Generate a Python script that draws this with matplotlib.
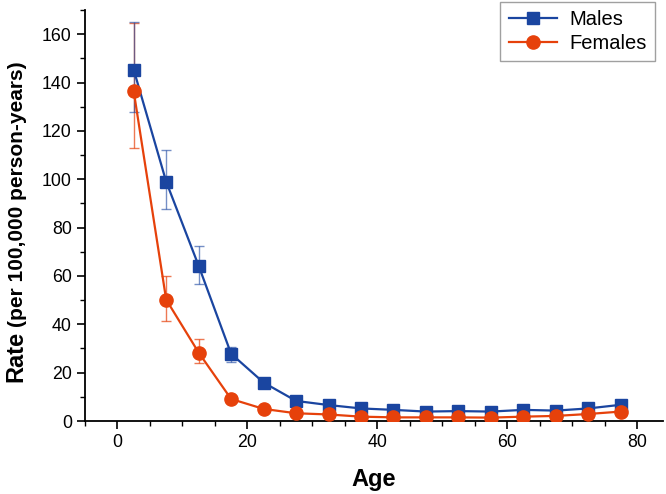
import matplotlib
matplotlib.use("Agg")
import matplotlib.pyplot as plt
import numpy as np

ages = [2.5, 7.5, 12.5, 17.5, 22.5, 27.5, 32.5, 37.5, 42.5, 47.5, 52.5, 57.5, 62.5, 67.5, 72.5, 77.5]
males = [145.3, 99.0, 64.2, 27.8, 15.9, 8.3, 6.6, 5.2, 4.6, 3.9, 4.1, 3.9, 4.6, 4.3, 5.2, 6.7]
females = [136.4, 50.2, 28.3, 9.1, 5.0, 3.2, 2.7, 1.8, 1.5, 1.5, 1.5, 1.4, 1.8, 2.1, 2.9, 3.9]
males_lo = [127.8, 87.5, 56.8, 24.3, 14.5, 7.3, 5.7, 4.5, 4.0, 3.4, 3.6, 3.4, 4.0, 3.7, 4.5, 5.8]
males_hi = [165.0, 112.0, 72.5, 30.8, 17.5, 9.4, 7.6, 6.0, 5.3, 4.5, 4.7, 4.5, 5.3, 5.0, 6.0, 7.7]
females_lo = [113.0, 41.4, 23.9, 7.6, 4.0, 2.5, 2.0, 1.3, 1.1, 1.1, 1.1, 1.0, 1.3, 1.6, 2.3, 3.2]
females_hi = [164.5, 59.8, 34.0, 10.8, 6.1, 4.0, 3.4, 2.4, 2.0, 2.0, 2.0, 1.9, 2.4, 2.7, 3.6, 4.7]

blue = "#1A45A0"
red = "#E6410B"

plt.rcParams['font.family'] = ['Liberation Sans', 'DejaVu Sans']

fig = plt.figure(figsize=(6.66, 4.94), dpi=100)
ax = fig.add_axes([85/666, 1-421/494, (663-85)/666, (421-10)/494])

m = np.array(males); f = np.array(females)
merr = [m - np.array(males_lo), np.array(males_hi) - m]
ferr = [f - np.array(females_lo), np.array(females_hi) - f]

ax.errorbar(ages, females, yerr=ferr, fmt='none', ecolor=red, alpha=0.7,
            elinewidth=1.0, capsize=3.5, capthick=1.0, zorder=2)
ax.errorbar(ages, males, yerr=merr, fmt='none', ecolor=blue, alpha=0.6,
            elinewidth=1.0, capsize=3.5, capthick=1.0, zorder=2)
ax.plot(ages, males, color=blue, marker='s', markersize=8, lw=1.6, label='Males', zorder=3)
ax.plot(ages, females, color=red, marker='o', markersize=9.5, lw=1.6, label='Females', zorder=4)

ax.set_xlim(-5, 84)
ax.set_ylim(0, 170)
ax.set_xticks([0, 20, 40, 60, 80])
ax.set_xticks(np.arange(-5, 84, 5), minor=True)
ax.set_yticks(np.arange(0, 161, 20))
ax.set_yticks(np.arange(0, 171, 10), minor=True)
for s in ['top', 'right']:
    ax.spines[s].set_visible(False)
for s in ['left', 'bottom']:
    ax.spines[s].set_linewidth(1.3)
ax.tick_params(which='major', direction='out', length=6, width=1.2, labelsize=12.8)
ax.tick_params(which='minor', direction='out', length=3.5, width=1.0)

ax.set_xlabel('Age', fontsize=17, fontweight='bold', labelpad=12)

t1 = fig.text(27/666, 1-382/494, 'Rate', rotation=90, fontsize=17, fontweight='bold',
              ha='right', va='bottom')
ax.annotate('(per 100,000 person-years)', xy=(1, 1), xycoords=t1, rotation=90,
            xytext=(0, 3), textcoords='offset points',
            fontsize=15, fontweight='bold', ha='right', va='bottom')

leg = ax.legend(loc='upper right', bbox_to_anchor=(655/666, 1-2/494),
                bbox_transform=fig.transFigure, borderaxespad=0, fontsize=14.5,
                frameon=True, fancybox=False, edgecolor='#888888', handlelength=2.4,
                borderpad=0.42, labelspacing=0.22, handletextpad=0.6)
leg.get_frame().set_linewidth(1.0)

fig.savefig('out.png', dpi=100)
